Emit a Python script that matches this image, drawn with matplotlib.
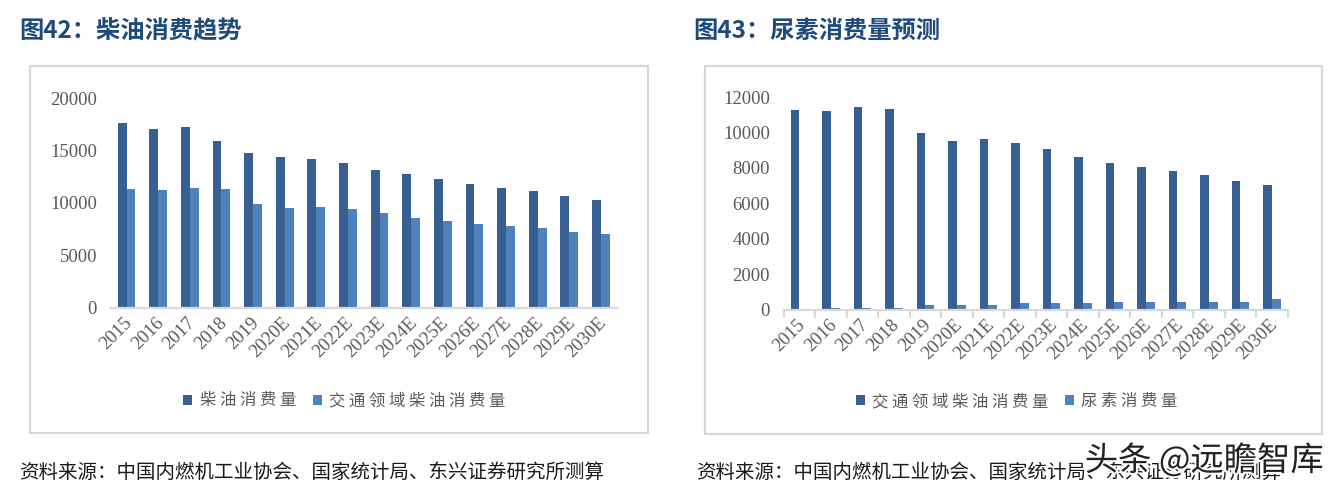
import matplotlib
matplotlib.use("Agg")
import matplotlib.pyplot as plt
import matplotlib.patheffects as pe
from matplotlib.patches import Rectangle, Patch
from matplotlib.transforms import ScaledTranslation
import numpy as np

plt.rcParams['font.family'] = ['Noto Sans CJK SC', 'DejaVu Sans']

# ---------------- data ----------------
years = ["2015", "2016", "2017", "2018", "2019", "2020E", "2021E", "2022E",
         "2023E", "2024E", "2025E", "2026E", "2027E", "2028E", "2029E", "2030E"]
diesel_total = [17600, 17030, 17220, 15880, 14730, 14350, 14150, 13770,
                13190, 12810, 12240, 11850, 11470, 11090, 10700, 10320]
diesel_transport = [11290, 11200, 11420, 11300, 9940, 9500, 9620, 9380,
                    9070, 8590, 8250, 8020, 7800, 7580, 7240, 7010]
urea = [0, 110, 110, 110, 230, 230, 230, 340, 340, 340, 450, 450, 450, 450, 450, 570]

title_left = "图42：柴油消费趋势"
title_right = "图43：尿素消费量预测"
legend_left = ["柴油消费量", "交通领域柴油消费量"]
legend_right = ["交通领域柴油消费量", "尿素消费量"]
source_text = "资料来源：中国内燃机工业协会、国家统计局、东兴证券研究所测算"
watermark = "头条 @远瞻智库"
left_yticks = [0, 5000, 10000, 15000, 20000]
right_yticks = [0, 2000, 4000, 6000, 8000, 10000, 12000]

# ---------------- style ----------------
W, H = 1337, 493
DARK = "#375F92"
LIGHT = "#4F81BD"
TITLE_C = "#1F4A7C"
TICK_C = "#5A5A5A"
AXIS_C = "#D9D9D9"
SERIF = "Liberation Serif"

fig = plt.figure(figsize=(W / 100, H / 100), dpi=100)
fig.patch.set_facecolor("white")

def px_rect(x0, y0, x1, y1):
    return [x0 / W, 1 - y1 / H, (x1 - x0) / W, (y1 - y0) / H]

# frames
for (x0, y0, x1, y1) in [(30, 66, 648, 433), (705, 66, 1322, 434)]:
    fig.patches.append(Rectangle((x0 / W, 1 - y1 / H), (x1 - x0) / W, (y1 - y0) / H,
                                 transform=fig.transFigure, fill=False,
                                 edgecolor="#D6D6D6", linewidth=1.6, zorder=0))

def spaced(s):
    return " ".join(list(s))

def setup_axes(ax, ymax, yticks, minor_ticks):
    ax.set_xlim(-0.5, len(years) - 0.5)
    ax.set_ylim(0, ymax)
    for s in ["top", "right", "left"]:
        ax.spines[s].set_visible(False)
    ax.spines["bottom"].set_color(AXIS_C)
    ax.spines["bottom"].set_linewidth(1.6)
    ax.set_yticks(yticks)
    ax.set_yticklabels([str(v) for v in yticks], family=SERIF, fontsize=13.5, color=TICK_C)
    ax.tick_params(axis="y", length=0, pad=10)
    x = np.arange(len(years))
    ax.set_xticks(x)
    ax.set_xticklabels(years, family=SERIF, fontsize=13.5, color=TICK_C,
                       rotation=45, ha="right", va="center", rotation_mode="anchor")
    ax.tick_params(axis="x", length=0, pad=9)
    off = ScaledTranslation(3 / 100, 0, fig.dpi_scale_trans)
    for lab in ax.get_xticklabels():
        lab.set_transform(lab.get_transform() + off)
    if minor_ticks:
        ax.set_xticks(np.arange(-0.5, len(years)), minor=True)
        ax.tick_params(axis="x", which="minor", length=6, width=1.6, color=AXIS_C)
    ax.patch.set_alpha(0)

bw = 0.28
x = np.arange(len(years))

# left chart
axL = fig.add_axes(px_rect(110.8, 98.3, 616.7, 307.5))
axL.bar(x - bw / 2, diesel_total, width=bw, color=DARK, zorder=2)
axL.bar(x + bw / 2, diesel_transport, width=bw, color=LIGHT, zorder=2)
setup_axes(axL, 20000, left_yticks, False)

# right chart
axR = fig.add_axes(px_rect(783.7, 97, 1287.7, 309.5))
axR.bar(x - bw / 2, diesel_transport, width=bw, color=DARK, zorder=2)
axR.bar(x + bw / 2, urea, width=bw, color=LIGHT, zorder=2)
setup_axes(axR, 12000, right_yticks, True)

# titles
fig.text(19 / W, 1 - 31 / H, title_left, fontsize=17.5, fontweight="bold",
         color=TITLE_C, ha="left", va="center")
fig.text(693 / W, 1 - 31 / H, title_right, fontsize=17.5, fontweight="bold",
         color=TITLE_C, ha="left", va="center")

# legends
def make_legend(labels, cx, cy):
    handles = [Patch(facecolor=DARK, edgecolor="none"), Patch(facecolor=LIGHT, edgecolor="none")]
    leg = fig.legend(handles, [spaced(l) for l in labels], loc="center",
                     bbox_to_anchor=(cx / W, 1 - cy / H), ncol=2, frameon=False,
                     fontsize=11.8, handlelength=0.55, handleheight=0.55,
                     handletextpad=0.45, columnspacing=1.0, borderaxespad=0, borderpad=0)
    for t in leg.get_texts():
        t.set_color(TICK_C)
    return leg

make_legend(legend_left, 344.4, 401)
make_legend(legend_right, 1016.7, 401.5)

# sources
fig.text(19 / W, 1 - 472 / H, source_text, fontsize=14, color="#1A1A1A",
         ha="left", va="center")
fig.text(696 / W, 1 - 472 / H, source_text, fontsize=14, color="#1A1A1A",
         ha="left", va="center")

# watermark (overlays the right source line, as in the reference)
fig.text(1324 / W, 1 - 461 / H, watermark, fontsize=24, color="#222222",
         ha="right", va="center",
         path_effects=[pe.withStroke(linewidth=3, foreground="white")])

fig.savefig("out.png", dpi=100, facecolor="white")
